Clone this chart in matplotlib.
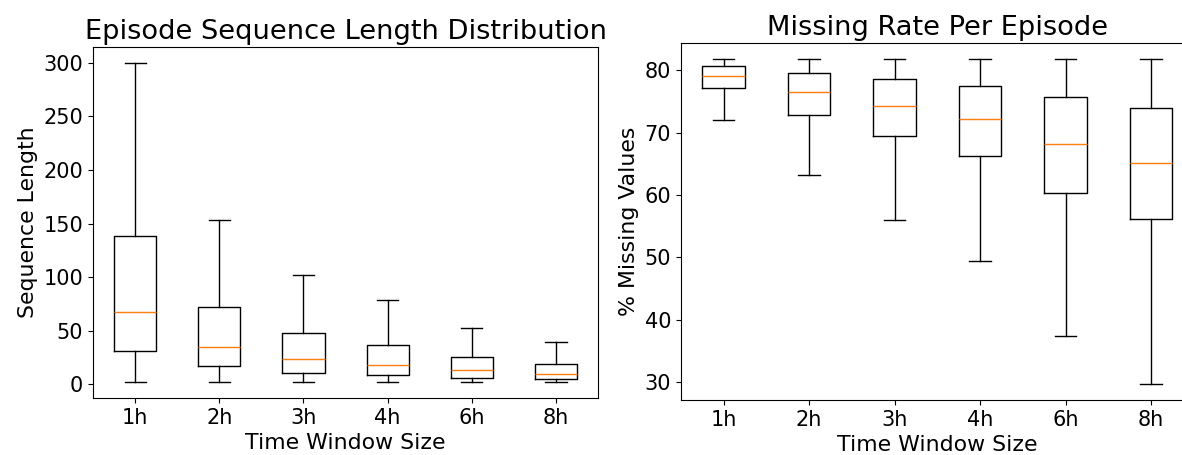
import matplotlib
matplotlib.use("Agg")
import matplotlib.pyplot as plt

# Time windows
windows = ['1h', '2h', '3h', '4h', '6h', '8h']

# Sequence length stats
len_low = [2, 2, 2, 2, 2, 2]
len_q1 = [31.3, 16.9, 10.3, 8.8, 5.6, 4.7]
len_med = [67, 34.4, 23.2, 17.9, 13.2, 9.4]
len_q3 = [138.4, 71.7, 47.9, 37, 25, 18.8]
len_high = [300, 153.5, 102, 78.3, 52.9, 39.8]

# Missing rate stats
miss_low = [72.0, 63.2, 56.0, 49.4, 37.4, 29.7]
miss_q1 = [77.1, 72.9, 69.4, 66.3, 60.3, 56.2]
miss_med = [79.1, 76.55, 74.3, 72.2, 68.2, 65.1]
miss_q3 = [80.7, 79.6, 78.6, 77.5, 75.7, 74.0]
miss_high = [81.8, 81.8, 81.8, 81.8, 81.8, 81.8]


def make_stats(low, q1, med, q3, high):
    stats = []
    for i in range(len(windows)):
        stats.append({'label': windows[i], 'whislo': low[i], 'q1': q1[i],
                      'med': med[i], 'q3': q3[i], 'whishi': high[i],
                      'fliers': []})
    return stats


fig = plt.figure(figsize=(11.82, 4.55), dpi=100)

ax1 = fig.add_axes([0.0787, 0.1253, 0.4273, 0.7714])
ax1.bxp(make_stats(len_low, len_q1, len_med, len_q3, len_high), showfliers=False)
ax1.set_title('Episode Sequence Length Distribution', fontsize=19.6)
ax1.set_xlabel('Time Window Size', fontsize=15.8)
ax1.set_ylabel('Sequence Length', fontsize=15.8)
ax1.tick_params(labelsize=15)

ax2 = fig.add_axes([0.576, 0.121, 0.434, 0.7845])
ax2.bxp(make_stats(miss_low, miss_q1, miss_med, miss_q3, miss_high), showfliers=False)
ax2.set_title('Missing Rate Per Episode', fontsize=19.6)
ax2.set_xlabel('Time Window Size', fontsize=15.8)
ax2.set_ylabel('% Missing Values', fontsize=15.8)
ax2.tick_params(labelsize=15)

fig.savefig('out.png', dpi=100)
